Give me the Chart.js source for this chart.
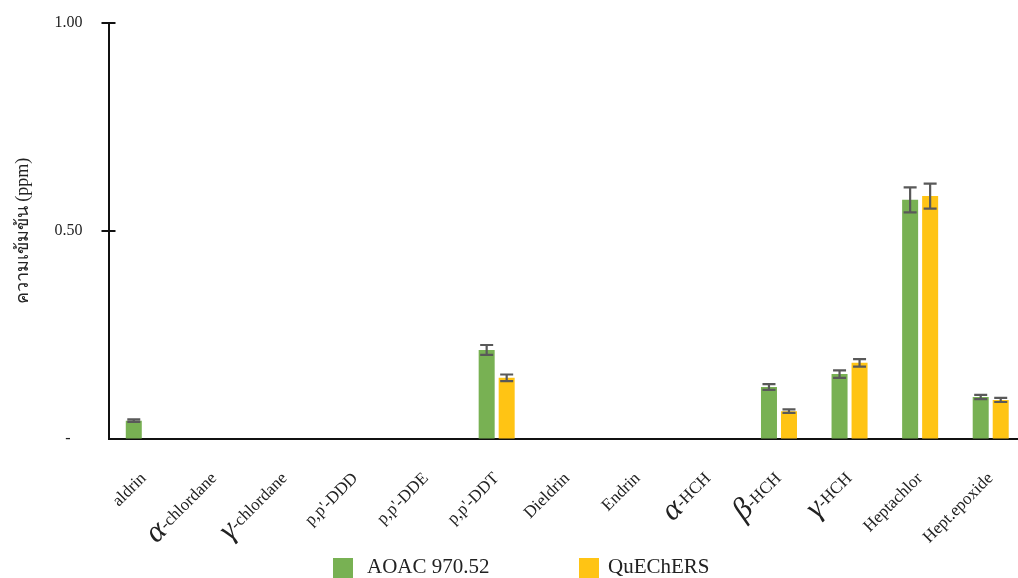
<!DOCTYPE html>
<html>
<head>
<meta charset="utf-8">
<script src="https://cdn.jsdelivr.net/npm/chart.js@4/dist/chart.umd.min.js"></script>
<style>
    html, body { margin: 0; padding: 0; background: #fff; overflow: hidden; }
    .wrap { position: relative; width: 1027px; height: 578px; }
    .legend { position: absolute; top: 557px; left: 0; font-family: 'Liberation Serif', serif; font-size: 21px; color: #222; }
    .legend-item { position: absolute; top: 0; white-space: nowrap; }
    .legend-box { position: absolute; top: 1px; width: 20px; height: 20px; }
    .legend-text { position: absolute; top: -3px; }
</style>
</head>
<body>
<div class="wrap">
    <canvas id="mychart"></canvas>
    <div class="legend" id="legend"></div>
</div>
<script>
const categories = ['aldrin', 'α-chlordane', 'γ-chlordane', "p,p'-DDD", "p,p'-DDE", "p,p'-DDT", 'Dieldrin', 'Endrin', 'α-HCH', 'β-HCH', 'γ-HCH', 'Heptachlor', 'Hept.epoxide'];
const aoacValues = [0.044, 0, 0, 0, 0, 0.214, 0, 0, 0, 0.125, 0.156, 0.575, 0.101];
const aoacErrors = [0.003, 0, 0, 0, 0, 0.012, 0, 0, 0, 0.007, 0.009, 0.03, 0.005];
const quechersValues = [0, 0, 0, 0, 0, 0.147, 0, 0, 0, 0.067, 0.183, 0.584, 0.094];
const quechersErrors = [0, 0, 0, 0, 0, 0.008, 0, 0, 0, 0.004, 0.009, 0.03, 0.005];
const seriesNames = ['AOAC 970.52', 'QuEChERS'];
const seriesColors = ['#78b153', '#ffc414'];
const yTicks = [0, 0.5, 1];

const serif = "'Liberation Serif', 'Times New Roman', serif";

// error bars + y tick crosses + rotated x labels
const extrasPlugin = {
    id: 'extras',
    afterDatasetsDraw(chart) {
        const ctx = chart.ctx;
        const yScale = chart.scales.y;
        const errors = [aoacErrors, quechersErrors];
        ctx.save();
        ctx.strokeStyle = '#595959';
        ctx.lineWidth = 2.2;
        chart.data.datasets.forEach((ds, i) => {
            const meta = chart.getDatasetMeta(i);
            meta.data.forEach((bar, j) => {
                const err = errors[i][j];
                if (!err) return;
                const top = yScale.getPixelForValue(ds.data[j] + err);
                const bottom = yScale.getPixelForValue(ds.data[j] - err);
                ctx.beginPath();
                ctx.moveTo(bar.x, top);
                ctx.lineTo(bar.x, bottom);
                ctx.moveTo(bar.x - 6.5, top);
                ctx.lineTo(bar.x + 6.5, top);
                ctx.moveTo(bar.x - 6.5, bottom);
                ctx.lineTo(bar.x + 6.5, bottom);
                ctx.stroke();
            });
        });
        ctx.restore();
    },
    afterDraw(chart) {
        const ctx = chart.ctx;
        const yScale = chart.scales.y;
        const xScale = chart.scales.x;
        const axisX = chart.chartArea.left;
        ctx.save();
        ctx.strokeStyle = '#111';
        ctx.lineWidth = 2;
        yTicks.filter((v) => v > 0).forEach((v) => {
            const y = yScale.getPixelForValue(v);
            ctx.beginPath();
            ctx.moveTo(axisX - 7, y);
            ctx.lineTo(axisX + 7, y);
            ctx.stroke();
        });

        ctx.fillStyle = '#222';
        ctx.textAlign = 'right';
        ctx.textBaseline = 'alphabetic';
        categories.forEach((label, i) => {
            const x = xScale.getPixelForValue(i) + 3;
            const y = chart.chartArea.bottom + 40;
            ctx.save();
            ctx.translate(x, y);
            ctx.rotate(-Math.PI / 4);
            const greek = /^[αβγ]/.test(label);
            const rest = greek ? label.slice(1) : label;
            ctx.font = `17px ${serif}`;
            ctx.fillText(rest, 0, 0);
            if (greek) {
                const w = ctx.measureText(rest).width;
                ctx.font = `italic 31px ${serif}`;
                ctx.fillText(label[0], -w, 3);
            }
            ctx.restore();
        });
        ctx.restore();
    }
};

new Chart('mychart', {
    type: 'bar',
    data: {
        labels: categories,
        datasets: [
            { label: seriesNames[0], data: aoacValues, backgroundColor: seriesColors[0], barPercentage: 0.8, categoryPercentage: 0.567 },
            { label: seriesNames[1], data: quechersValues, backgroundColor: seriesColors[1], barPercentage: 0.8, categoryPercentage: 0.567 }
        ]
    },
    options: {
        responsive: true,
        maintainAspectRatio: false,
        animation: false,
        layout: { padding: { top: 23, right: 1, left: 0, bottom: 0 } },
        plugins: {
            legend: { display: false },
            tooltip: { enabled: false }
        },
        scales: {
            x: {
                grid: { display: false, drawTicks: false },
                border: { display: true, color: '#111', width: 2 },
                ticks: { display: false },
                afterFit(scale) { scale.height = 139; }
            },
            y: {
                min: 0,
                max: 1,
                afterBuildTicks(scale) { scale.ticks = yTicks.map((v) => ({ value: v })); },
                grid: { display: true, drawOnChartArea: false, drawTicks: true, tickLength: 26, tickColor: 'rgba(0,0,0,0)', color: 'rgba(0,0,0,0)' },
                border: { display: true, color: '#111', width: 2 },
                ticks: {
                    padding: 0,
                    color: '#222',
                    font: { family: serif, size: 16 },
                    callback: (v) => v === 0 ? '-   ' : v.toFixed(2)
                },
                title: {
                    display: true,
                    text: 'ความเข้มข้น (ppm)',
                    color: '#222',
                    font: { family: serif, size: 18 },
                    padding: { top: 12, bottom: 0 }
                },
                afterFit(scale) { scale.width = 108.5; }
            }
        }
    },
    plugins: [extrasPlugin]
});

// legend below the axis
const legendEl = document.querySelector('#legend');
const legendPos = [[333, 367], [579, 608]];
seriesNames.forEach((name, i) => {
    const html = `<div class="legend-item">
                    <div class="legend-box" style="left:${legendPos[i][0]}px;background:${seriesColors[i]}"></div>
                    <div class="legend-text" style="left:${legendPos[i][1]}px">${name}</div>
                  </div>`;
    legendEl.insertAdjacentHTML('beforeend', html);
});
</script>
</body>
</html>
